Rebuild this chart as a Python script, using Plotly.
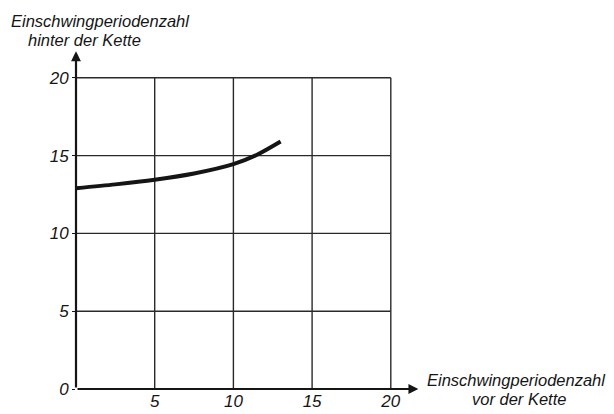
import plotly.graph_objects as go

# data
x_vals = [0, 2.5, 5, 7.5, 10, 11.5, 13]
y_vals = [12.9, 13.15, 13.45, 13.85, 14.45, 15.05, 15.9]
x_ticks = [5, 10, 15, 20]
y_ticks = [0, 5, 10, 15, 20]
grid_max = 20
axis_end_x = 21.75
axis_end_y = 21.7

INK = "#151515"
FONT = dict(family="Liberation Sans, Arial, sans-serif", size=17, color=INK, style="italic")
TFONT = dict(family="Liberation Sans, Arial, sans-serif", size=16.5, color=INK, style="italic")

OFF = 8  # the page's body margin
FW, FH = 614 - OFF, 414 - OFF
L, W = 75.7 - OFF, 350.8
T_, H = 42.2 - OFF, 346.8
BOTTOM = T_ + H

def px_x(p):
    return (p - OFF - L) / W

def px_y(p):
    return (BOTTOM - (p - OFF)) / H

fig = go.Figure()
fig.add_trace(go.Scatter(x=x_vals, y=y_vals, mode="lines",
                         line=dict(color=INK, width=4, shape="spline", smoothing=0.8),
                         cliponaxis=False, hoverinfo="skip", showlegend=False))

shapes = []
for xv in x_ticks:
    shapes.append(dict(type="line", xref="x", yref="y", x0=xv, x1=xv, y0=0, y1=grid_max,
                       line=dict(color="#2a2a2a", width=1.4), layer="below"))
for yv in y_ticks[1:]:
    shapes.append(dict(type="line", xref="x", yref="y", x0=0, x1=grid_max, y0=yv, y1=yv,
                       line=dict(color="#2a2a2a", width=1.4), layer="below"))

annotations = [
    # axes with arrows
    dict(x=axis_end_x, y=0, ax=0, ay=0, xref="x", yref="y", axref="x", ayref="y",
         showarrow=True, arrowhead=2, arrowsize=0.9, arrowwidth=2.2, arrowcolor=INK, text=""),
    dict(x=0, y=axis_end_y, ax=0, ay=0, xref="x", yref="y", axref="x", ayref="y",
         showarrow=True, arrowhead=2, arrowsize=0.9, arrowwidth=2.2, arrowcolor=INK, text=""),
    # titles
    dict(text="Einschwingperiodenzahl", xref="paper", yref="paper", x=px_x(9), y=px_y(21),
         xanchor="left", yanchor="middle", showarrow=False, font=TFONT),
    dict(text="hinter der Kette", xref="paper", yref="paper", x=px_x(26), y=px_y(40),
         xanchor="left", yanchor="middle", showarrow=False, font=TFONT),
    dict(text="Einschwingperiodenzahl", xref="paper", yref="paper", x=px_x(425), y=px_y(380),
         xanchor="left", yanchor="middle", showarrow=False, font=TFONT),
    dict(text="vor der Kette", xref="paper", yref="paper", x=px_x(518), y=px_y(399),
         xanchor="center", yanchor="middle", showarrow=False, font=TFONT),
]

fig.update_layout(
    width=FW, height=FH,
    margin=dict(l=L, r=FW - L - W, t=T_, b=FH - BOTTOM, pad=0, autoexpand=False),
    paper_bgcolor="white", plot_bgcolor="white",
    shapes=shapes, annotations=annotations,
    xaxis=dict(range=[0, 22.3], tickvals=x_ticks, ticktext=[str(v) for v in x_ticks],
               showgrid=False, zeroline=False, showline=False, ticks="",
               tickfont=FONT, fixedrange=True, automargin=False),
    yaxis=dict(range=[0, 22.3], tickvals=y_ticks, ticktext=[str(v) for v in y_ticks],
               showgrid=False, zeroline=False, showline=False, ticks="outside", ticklen=3,
               tickcolor=INK, tickwidth=1.4, tickfont=FONT, fixedrange=True, automargin=False),
)

fig.write_html("out.html")
